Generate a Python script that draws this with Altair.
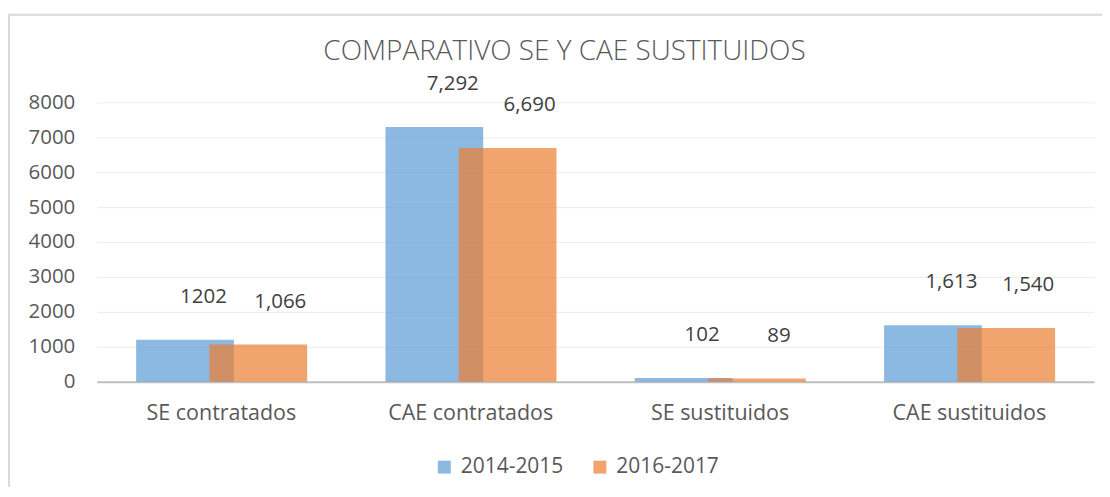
import altair as alt
import pandas as pd

categories = ["SE contratados", "CAE contratados", "SE sustituidos", "CAE sustituidos"]
series = ["2014-2015", "2016-2017"]
values_2014_2015 = [1202, 7292, 102, 1613]
values_2016_2017 = [1066, 6690, 89, 1540]
labels_2014_2015 = ["1202", "7,292", "102", "1,613"]
labels_2016_2017 = ["1,066", "6,690", "89", "1,540"]
y_ticks = [0, 1000, 2000, 3000, 4000, 5000, 6000, 7000, 8000]
title_text = "COMPARATIVO SE Y CAE SUSTITUIDOS"
colors = ["#5B9BD5", "#ED7D31"]

rows = []
for c, v, l in zip(categories, values_2014_2015, labels_2014_2015):
    rows.append({"category": c, "series": series[0], "value": v, "label": l})
for c, v, l in zip(categories, values_2016_2017, labels_2016_2017):
    rows.append({"category": c, "series": series[1], "value": v, "label": l})
df = pd.DataFrame(rows)

FONT = "Open Sans"
AXIS_GRAY = "#595959"

x_enc = alt.X(
    "category:N",
    sort=categories,
    scale=alt.Scale(paddingInner=0, paddingOuter=0),
    axis=alt.Axis(
        title=None, labelAngle=0, labelFontSize=21.5, labelColor=AXIS_GRAY,
        labelFont=FONT, domainColor="#bfbfbf", domainWidth=2, ticks=False,
        tickSize=0, labelPadding=32, labelBaseline="middle", grid=False,
    ),
)
y_enc = alt.Y(
    "value:Q",
    scale=alt.Scale(domain=[0, 8000], nice=False),
    axis=alt.Axis(
        title=None, values=y_ticks, format="d", labelFontSize=20.5,
        labelColor=AXIS_GRAY, labelFont=FONT, domain=False, ticks=False,
        tickSize=0, labelPadding=22, gridColor="#ececec", gridWidth=1,
    ),
)
color_enc = alt.Color(
    "series:N",
    scale=alt.Scale(domain=series, range=colors),
    legend=alt.Legend(
        title=None, orient="none", legendX=338, legendY=355,
        direction="horizontal", symbolType="square", symbolSize=169,
        symbolOpacity=0.7, symbolStrokeWidth=0, labelFontSize=21,
        labelFont=FONT, labelColor=AXIS_GRAY, labelOffset=6, columnPadding=26,
    ),
)

base = alt.Chart(df)

bars_a = base.transform_filter(alt.datum.series == series[0]).mark_bar(
    width=98, xOffset=-36.5, opacity=0.7
).encode(x=x_enc, y=y_enc, color=color_enc)

bars_b = base.transform_filter(alt.datum.series == series[1]).mark_bar(
    width=98, xOffset=37, opacity=0.7
).encode(x=x_enc, y=y_enc, color=color_enc)

text_a = base.transform_filter(alt.datum.series == series[0]).mark_text(
    font=FONT, fontSize=20.5, color="#404040", dx=-18, dy=-43, baseline="middle"
).encode(x=x_enc, y=y_enc, text="label:N")

text_b = base.transform_filter(alt.datum.series == series[1]).mark_text(
    font=FONT, fontSize=20.5, color="#404040", dx=59, dy=-43, baseline="middle"
).encode(x=x_enc, y=y_enc, text="label:N")

one = pd.DataFrame({"t": [title_text]})
title = alt.Chart(one).mark_text(
    font=FONT, fontSize=28, fontWeight=300, color=AXIS_GRAY,
    baseline="middle", align="center"
).encode(x=alt.value(469), y=alt.value(-51), text="t:N")

frame_top = alt.Chart(one).mark_rule(color="#d9d9d9", strokeWidth=2).encode(
    x=alt.value(-88), x2=alt.value(1010), y=alt.value(-88)
)
frame_left = alt.Chart(one).mark_rule(color="#d9d9d9", strokeWidth=2).encode(
    x=alt.value(-88), y=alt.value(-89), y2=alt.value(390)
)

chart = alt.layer(
    frame_top, frame_left, bars_a, bars_b, text_a, text_b, title
).properties(
    width=1000,
    height=280,
    padding={"left": 89, "top": 94, "right": 8, "bottom": 105},
    autosize=alt.AutoSizeParams(type="none"),
).configure_view(stroke=None)

chart.save("out.html", embed_options={"renderer": "svg", "actions": False})
